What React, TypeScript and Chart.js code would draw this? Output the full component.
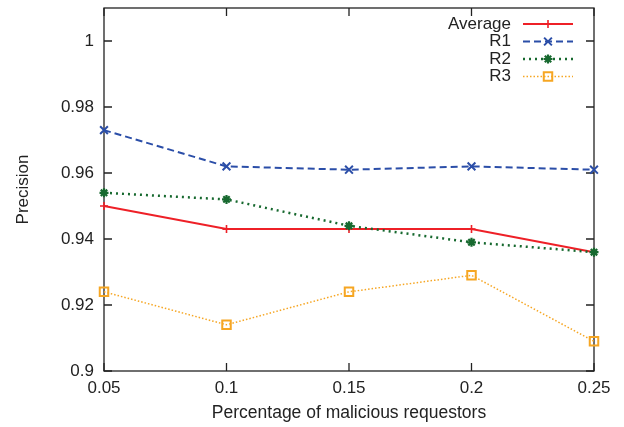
import React, { useEffect, useRef } from "react";
import { Chart, registerables } from "chart.js";
import { drawPoint } from "chart.js/helpers";

Chart.register(...registerables);

const xValues = [0.05, 0.1, 0.15, 0.2, 0.25];
const averageValues = [0.95, 0.943, 0.943, 0.943, 0.936];
const r1Values = [0.973, 0.962, 0.961, 0.962, 0.961];
const r2Values = [0.954, 0.952, 0.944, 0.939, 0.936];
const r3Values = [0.924, 0.914, 0.924, 0.929, 0.909];
const seriesNames = ["Average", "R1", "R2", "R3"];
const xTicks = [0.05, 0.1, 0.15, 0.2, 0.25];
const yTicks = [0.9, 0.92, 0.94, 0.96, 0.98, 1];
const xTitle = "Percentage of malicious requestors";
const yTitle = "Precision";

const FONT = '"Liberation Sans", Arial, Helvetica, sans-serif';
const INK = "#222222";

const toPoints = (ys: number[]) => xValues.map((x, i) => ({ x, y: ys[i] }));

const framePlugin = {
  id: "gpFrame",
  beforeDatasetsDraw(chart: any) {
    const { ctx, chartArea: a, scales } = chart;
    ctx.save();
    ctx.strokeStyle = INK;
    ctx.lineWidth = 1.3;
    ctx.setLineDash([]);
    ctx.strokeRect(a.left, a.top, a.right - a.left, a.bottom - a.top);
    ctx.beginPath();
    const tl = 8;
    scales.x.ticks.forEach((t: any) => {
      const px = scales.x.getPixelForValue(t.value);
      ctx.moveTo(px, a.bottom);
      ctx.lineTo(px, a.bottom - tl);
      ctx.moveTo(px, a.top);
      ctx.lineTo(px, a.top + tl);
    });
    scales.y.ticks.forEach((t: any) => {
      const py = scales.y.getPixelForValue(t.value);
      ctx.moveTo(a.left, py);
      ctx.lineTo(a.left + tl, py);
      ctx.moveTo(a.right, py);
      ctx.lineTo(a.right - tl, py);
    });
    ctx.stroke();
    ctx.restore();
  },
};

const legendPlugin = {
  id: "gpLegend",
  afterDraw(chart: any) {
    const { ctx, chartArea: a } = chart;
    const datasets = chart.data.datasets;
    ctx.save();
    ctx.font = `17px ${FONT}`;
    ctx.textAlign = "right";
    ctx.textBaseline = "middle";
    datasets.forEach((ds: any, i: number) => {
      const y = a.top + 16 + i * 17.5;
      ctx.fillStyle = INK;
      ctx.fillText(ds.label, a.right - 83, y);
      ctx.strokeStyle = ds.borderColor;
      ctx.lineWidth = ds.borderWidth;
      ctx.setLineDash(ds.borderDash || []);
      ctx.beginPath();
      ctx.moveTo(a.right - 71, y);
      ctx.lineTo(a.right - 21, y);
      ctx.stroke();
      ctx.setLineDash([]);
      ctx.fillStyle = ds.pointBackgroundColor;
      ctx.strokeStyle = ds.pointBorderColor;
      ctx.lineWidth = ds.pointBorderWidth;
      drawPoint(
        ctx,
        { pointStyle: ds.pointStyle, radius: ds.pointRadius, rotation: 0, borderWidth: ds.pointBorderWidth } as any,
        a.right - 46,
        y
      );
    });
    ctx.restore();
  },
};

export default function App() {
  const canvasRef = useRef<HTMLCanvasElement | null>(null);

  useEffect(() => {
    if (!canvasRef.current) return;
    Chart.defaults.font.family = FONT;
    Chart.defaults.font.size = 17;
    Chart.defaults.color = INK;

    const colors = ["#ee2027", "#2b4ea8", "#17692f", "#f6a623"];
    const chart = new Chart(canvasRef.current, {
      type: "line",
      data: {
        datasets: [
          {
            label: seriesNames[0],
            data: toPoints(averageValues),
            borderColor: colors[0],
            backgroundColor: colors[0],
            borderWidth: 2,
            pointStyle: "cross",
            pointRadius: 4,
            pointBorderWidth: 1.6,
            pointBorderColor: colors[0],
            pointBackgroundColor: colors[0],
            clip: false,
            order: 4,
          },
          {
            label: seriesNames[1],
            data: toPoints(r1Values),
            borderColor: colors[1],
            backgroundColor: colors[1],
            borderWidth: 2,
            borderDash: [7, 4],
            pointStyle: "crossRot",
            pointRadius: 5.5,
            pointBorderWidth: 2,
            pointBorderColor: colors[1],
            pointBackgroundColor: colors[1],
            clip: false,
            order: 3,
          },
          {
            label: seriesNames[2],
            data: toPoints(r2Values),
            borderColor: colors[2],
            backgroundColor: colors[2],
            borderWidth: 2.5,
            borderDash: [2, 4],
            pointStyle: "star",
            pointRadius: 4.5,
            pointBorderWidth: 2.2,
            pointBorderColor: colors[2],
            pointBackgroundColor: colors[2],
            clip: false,
            order: 2,
          },
          {
            label: seriesNames[3],
            data: toPoints(r3Values),
            borderColor: colors[3],
            backgroundColor: colors[3],
            borderWidth: 1.5,
            borderDash: [1.5, 2],
            pointStyle: "rect",
            pointRadius: 6,
            pointBorderWidth: 2,
            pointBorderColor: colors[3],
            pointBackgroundColor: "rgba(0,0,0,0)",
            clip: false,
            order: 1,
          },
        ],
      },
      options: {
        responsive: false,
        animation: false,
        layout: { padding: { left: 0, right: 30, top: 5, bottom: 0 } },
        plugins: {
          legend: { display: false },
          tooltip: { enabled: false },
        },
        scales: {
          x: {
            type: "linear",
            min: 0.05,
            max: 0.25,
            grid: { display: false, drawTicks: false },
            border: { display: false },
            afterBuildTicks: (scale: any) => {
              scale.ticks = xTicks.map((v) => ({ value: v }));
            },
            afterFit: (scale: any) => {
              scale.height = 56;
              scale.paddingLeft = 0;
              scale.paddingRight = 0;
            },
            ticks: {
              padding: 7,
              color: INK,
              font: { size: 17, lineHeight: 1.2 },
              callback: (v: any) => String(Number(Number(v).toFixed(2))),
            },
            title: {
              display: true,
              text: xTitle,
              color: INK,
              font: { size: 17.5, lineHeight: 1.2 },
              padding: { top: 0, bottom: 3 },
            },
          },
          y: {
            type: "linear",
            min: 0.9,
            max: 1.01,
            grid: { display: false, drawTicks: false },
            border: { display: false },
            afterBuildTicks: (scale: any) => {
              scale.ticks = yTicks.map((v) => ({ value: v }));
            },
            afterFit: (scale: any) => {
              scale.width = 104;
              scale.paddingTop = 0;
              scale.paddingBottom = 0;
            },
            ticks: {
              padding: 10,
              color: INK,
              font: { size: 17, lineHeight: 1.2 },
              callback: (v: any) => String(Number(Number(v).toFixed(2))),
            },
            title: {
              display: true,
              text: yTitle,
              color: INK,
              font: { size: 17, lineHeight: 1.2 },
              padding: { top: 13, bottom: 0 },
            },
          },
        },
      },
      plugins: [framePlugin, legendPlugin],
    } as any);

    return () => chart.destroy();
  }, []);

  return (
    <div style={{ position: "absolute", left: 0, top: 0, width: 624, height: 427, background: "#fff" }}>
      <canvas ref={canvasRef} width={624} height={427} style={{ display: "block", width: 624, height: 427 }} />
    </div>
  );
}
